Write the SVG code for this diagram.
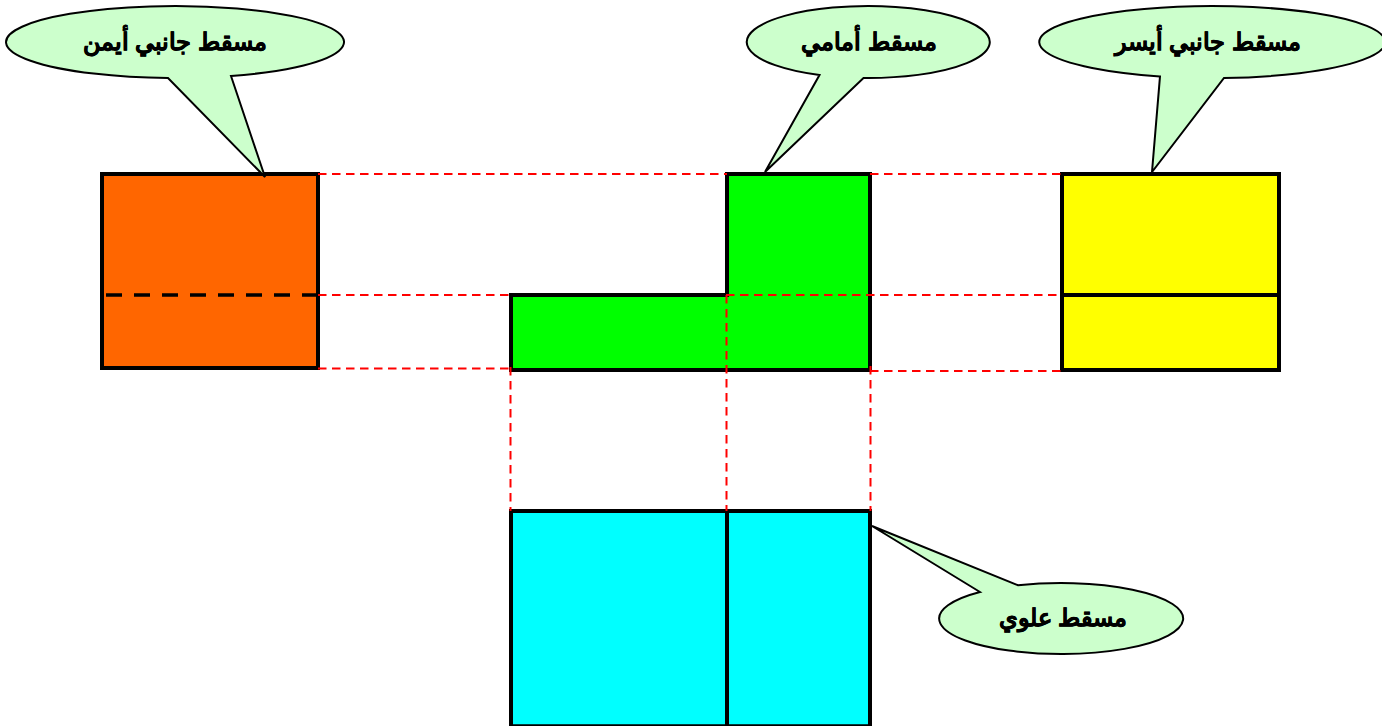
<svg xmlns="http://www.w3.org/2000/svg" width="1382" height="726" viewBox="0 0 1382 726">
<style>
.s{stroke:#000;stroke-width:4;stroke-linejoin:miter}
.b{fill:#ccffcc;stroke:#000;stroke-width:2;stroke-linejoin:miter}
.d{fill:none;stroke:#ff0000;stroke-width:2;stroke-dasharray:8.500 5.500}
.t{font-family:"Liberation Sans","Noto Sans",sans-serif;font-size:24px;font-weight:bold;fill:#000;stroke:#000;stroke-width:.4;text-anchor:middle}
</style>
<rect width="1382" height="726" fill="#fff"/>
<g id="right-view"><rect class="s" x="102" y="174" width="216" height="194" fill="#ff6600"/><path d="M106 295H318" fill="none" stroke="#000" stroke-width="3.600" stroke-dasharray="16 12"/></g>
<g id="front-view"><path class="s" d="M727 174H870V370H511V295H727Z" fill="#00ff00"/></g>
<g id="left-view"><rect class="s" x="1062" y="174" width="217" height="196" fill="#ffff00"/><path class="s" d="M1062 295H1279" fill="none"/></g>
<g id="top-view"><path class="s" d="M511 511H870V726.300H511Z" fill="#00ffff"/><path class="s" d="M727 511V726" fill="none"/></g>
<g id="connectors">
<path class="d" d="M318 174H727M870 174H1062M318 295H511M726 295H1062M318 368.500H511M870 371H1062M510.500 367V511M726.500 295V511M870.500 366V511"/>
</g>
<g id="callout-right"><path class="b" d="M231 76A169 36 0 1 0 168 78L265 177Z"/><text class="t" x="175" y="50" direction="rtl">مسقط جانبي أيمن</text></g>
<g id="callout-front"><path class="b" d="M863.500 78A121.500 36 0 1 0 819.500 75L765 172Z"/><text class="t" x="869" y="50" direction="rtl">مسقط أمامي</text></g>
<g id="callout-left"><path class="b" d="M1224 78A173 36 0 1 0 1160 76.400L1152 172Z"/><text class="t" x="1208" y="50" direction="rtl">مسقط جانبي أيسر</text></g>
<g id="callout-top"><path class="b" d="M980 592A122 35.500 0 1 0 1018 585.300L872 526Z"/><text class="t" x="1063" y="626" direction="rtl">مسقط علوي</text></g>
</svg>
